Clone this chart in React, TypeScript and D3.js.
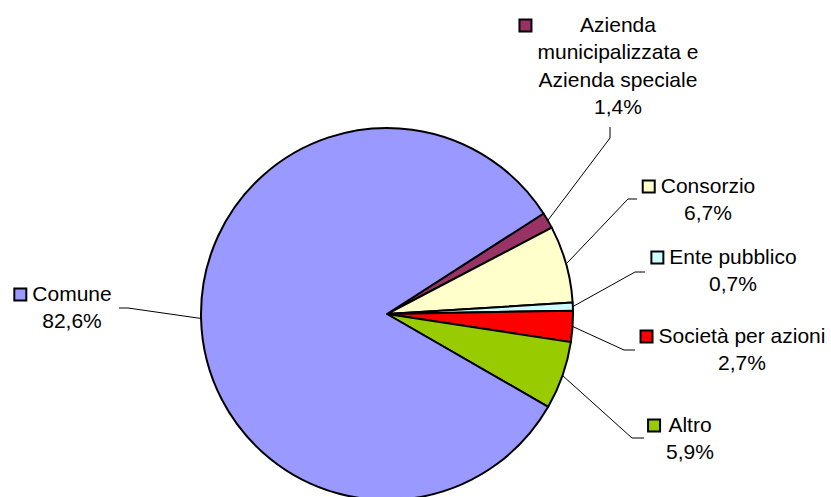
import { useRef, useEffect } from 'react';
import * as d3 from 'd3';

// slices in clockwise order, starting just right of 12 o'clock
const categories = [
  'Azienda\nmunicipalizzata e\nAzienda speciale',
  'Consorzio',
  'Ente pubblico',
  'Società per azioni',
  'Altro',
  'Comune',
];
const shares = [1.4, 6.7, 0.7, 2.7, 5.9, 82.6];
const colors = ['#993366', '#FFFFCC', '#CCFFFF', '#FF0000', '#99CC00', '#9999FF'];

// label placement: text centre x, first baseline y, leader elbow and end
const labelPos = [
  { cx: 618, y: 32, elbow: [610, 138], end: [610, 127] },
  { cx: 708, y: 193, elbow: [628, 199], end: [637, 199] },
  { cx: 733, y: 264, elbow: [635, 272], end: [645, 272] },
  { cx: 742, y: 343, elbow: [624, 350], end: [635, 350] },
  { cx: 690, y: 432, elbow: [632, 438], end: [644, 438] },
  { cx: 72, y: 301, elbow: [128, 308], end: [119, 308] },
];

export default function App() {
  const svgRef = useRef<SVGSVGElement>(null);

  useEffect(() => {
    const width = 831;
    const height = 497;
    const cx = 387;
    const cy = 314;
    const radius = 186;
    const lineHeight = 27.3;

    const svg = d3.select(svgRef.current).attr('width', width).attr('height', height);
    svg.selectAll('*').remove();

    const data = categories.map((name, i) => ({ name, value: shares[i], color: colors[i], pos: labelPos[i] }));

    const startAngle = (57.3 * Math.PI) / 180;
    const pie = d3
      .pie<any>()
      .sort(null)
      .value((d) => d.value)
      .startAngle(startAngle)
      .endAngle(startAngle + 2 * Math.PI);
    const arcs = pie(data);
    const arc = d3.arc<any>().innerRadius(0).outerRadius(radius);

    const g = svg.append('g').attr('transform', `translate(${cx}, ${cy})`);
    g.selectAll('path')
      .data(arcs)
      .join('path')
      .attr('d', arc)
      .attr('fill', (d) => d.data.color)
      .attr('stroke', '#000')
      .attr('stroke-width', 2)
      .attr('stroke-linejoin', 'round');

    // leader lines
    svg
      .append('g')
      .selectAll('polyline')
      .data(arcs)
      .join('polyline')
      .attr('points', (d) => {
        const mid = (d.startAngle + d.endAngle) / 2;
        const x0 = cx + radius * Math.sin(mid);
        const y0 = cy - radius * Math.cos(mid);
        const p = d.data.pos;
        return `${x0},${y0} ${p.elbow[0]},${p.elbow[1]} ${p.end[0]},${p.end[1]}`;
      })
      .attr('fill', 'none')
      .attr('stroke', '#000')
      .attr('stroke-width', 1);

    // labels
    const labels = svg
      .append('g')
      .attr('font-family', 'Liberation Sans, Arial, sans-serif')
      .attr('font-size', 21)
      .attr('fill', '#000');

    data.forEach((d) => {
      const lines = [...d.name.split('\n'), `${d.value.toFixed(1).replace('.', ',')}%`];
      const text = labels
        .append('text')
        .attr('text-anchor', 'middle')
        .attr('x', d.pos.cx)
        .attr('y', d.pos.y);
      text
        .selectAll('tspan')
        .data(lines)
        .join('tspan')
        .attr('x', d.pos.cx)
        .attr('y', (_, i) => d.pos.y + i * lineHeight)
        .text((t) => t);
      let maxW = 0;
      text.selectAll<SVGTSpanElement, string>('tspan').each(function () {
        maxW = Math.max(maxW, this.getComputedTextLength());
      });
      const left = d.pos.cx - maxW / 2;
      labels
        .append('rect')
        .attr('x', left - 5 - 13)
        .attr('y', d.pos.y - 12.5)
        .attr('width', 12)
        .attr('height', 12)
        .attr('fill', d.color)
        .attr('stroke', '#000')
        .attr('stroke-width', 2);
    });
  }, []);

  return (
    <div>
      <svg ref={svgRef} style={{ position: 'absolute', left: 0, top: 0, background: '#fff' }} />
    </div>
  );
}
